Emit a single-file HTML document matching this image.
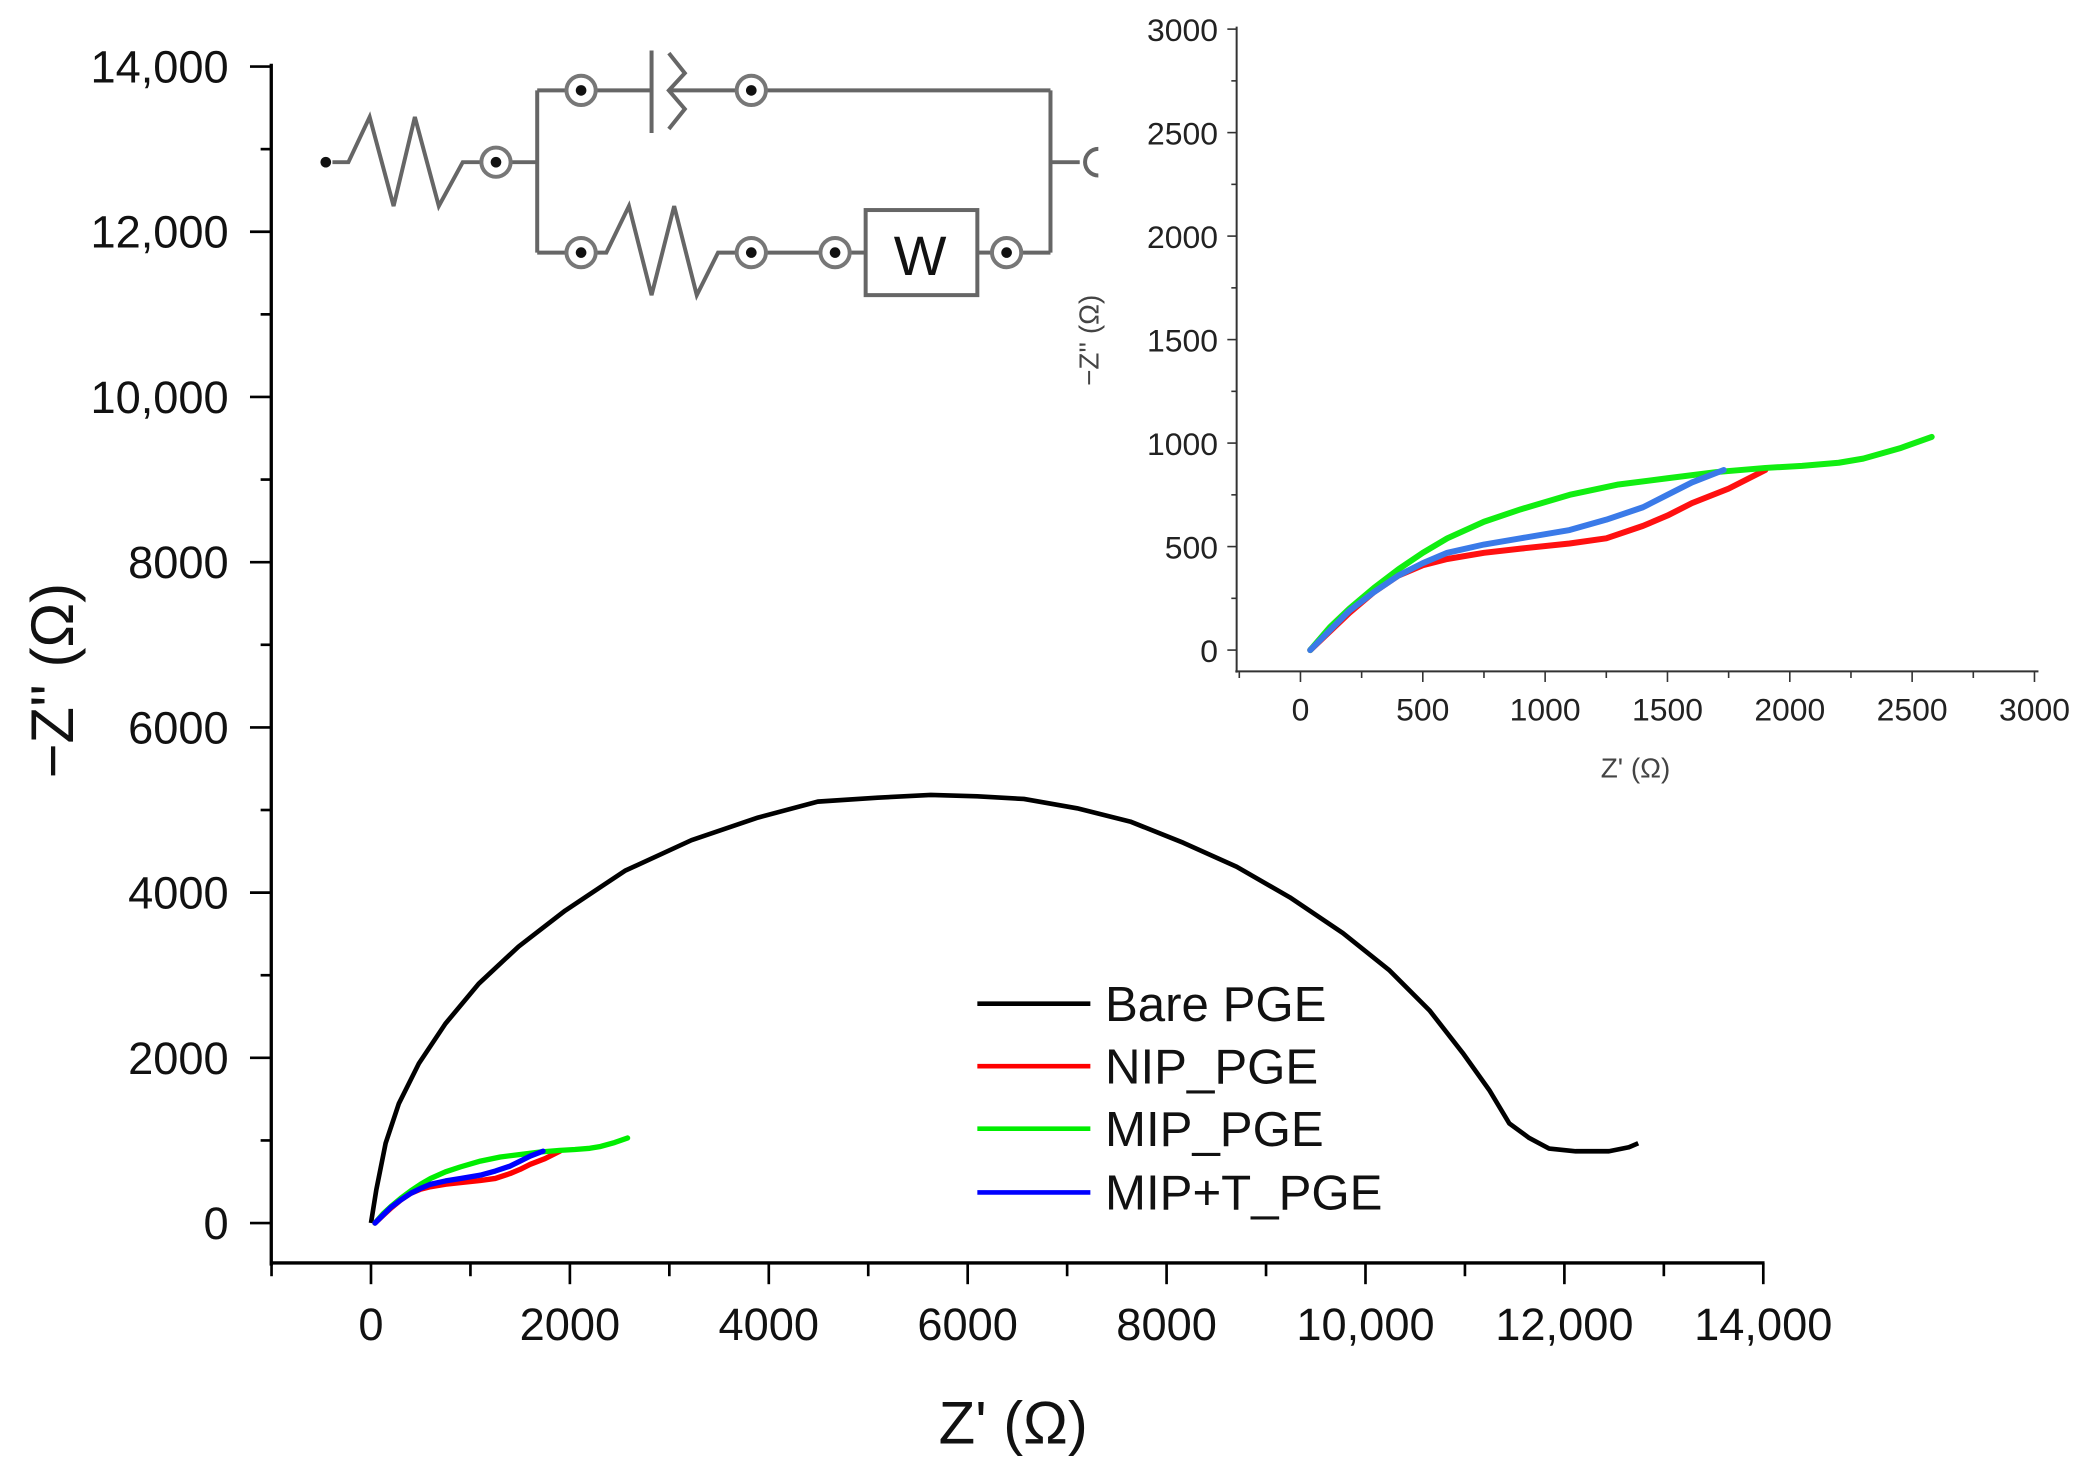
<!DOCTYPE html>
<html><head><meta charset="utf-8"><style>
html,body{margin:0;padding:0;background:#fff}
svg{display:block}
text{font-family:"Liberation Sans",sans-serif}
</style></head><body>
<svg id="s" width="2085" height="1465" viewBox="0 0 1568 1102" preserveAspectRatio="none" xmlns="http://www.w3.org/2000/svg">
<rect width="1568" height="1102" fill="#fff"/>
<g id="main"></g>
<!-- circuit -->
<g stroke="#666" stroke-width="3" fill="none">
<circle cx="245" cy="122" r="4" fill="#111" stroke="none"/>
<polyline points="250,122 262,122 278,88 296,155 312,88 330,155 348,122 362,122"/>
<line x1="385" y1="122" x2="404" y2="122"/>
<line x1="404" y1="68" x2="404" y2="190"/>
<line x1="404" y1="68" x2="425" y2="68"/><line x1="449" y1="68" x2="490" y2="68"/>
<line x1="490" y1="38" x2="490" y2="100"/>
<polyline points="503,40 515,55 503,68 515,82 503,97"/>
<line x1="503" y1="68" x2="553" y2="68"/><line x1="577" y1="68" x2="790" y2="68"/>
<line x1="790" y1="68" x2="790" y2="190"/>
<line x1="790" y1="122" x2="812" y2="122"/>
<path d="M826,112 A10,10 0 0 0 826,132"/>
<line x1="404" y1="190" x2="425" y2="190"/>
<polyline points="449,190 456,190 473,155 490,222 507,155 524,222 540,190 553,190"/>
<line x1="577" y1="190" x2="616" y2="190"/>
<rect x="651" y="158" width="84" height="64"/>
<line x1="640" y1="190" x2="651" y2="190"/><line x1="735" y1="190" x2="745" y2="190"/>
<line x1="769" y1="190" x2="790" y2="190"/>
</g>
<g id="nodes"></g>
<text x="692" y="207" font-size="42" fill="#111" text-anchor="middle">W</text>
<g id="inset"></g>
</svg>
<script>
const NS="http://www.w3.org/2000/svg";
function el(p,t,a,txt){const e=document.createElementNS(NS,t);for(const k in a)e.setAttribute(k,a[k]);if(txt!=null)e.textContent=txt;p.appendChild(e);return e;}
const nd=document.getElementById('nodes');
[[373,122],[437,68],[565,68],[437,190],[565,190],[628,190],[757,190]].forEach(([x,y])=>{
 el(nd,'circle',{cx:x,cy:y,r:11,fill:'#fff',stroke:'#777','stroke-width':3});
 el(nd,'circle',{cx:x,cy:y,r:4,fill:'#111'});
});
const m=document.getElementById('main');
const X=z=>279+z*0.07479, Y=z=>920-z*0.06214;
el(m,'line',{x1:204,y1:48,x2:204,y2:952,stroke:'#000','stroke-width':2.5});
el(m,'line',{x1:203,y1:950,x2:1327,y2:950,stroke:'#000','stroke-width':2.5});
for(let v=0;v<=14000;v+=1000){const maj=v%2000==0;const y=Y(v);
 el(m,'line',{x1:maj?188:196,y1:y,x2:204,y2:y,stroke:'#000','stroke-width':2});
 if(maj)el(m,'text',{x:172,y:y+12,'font-size':34,'text-anchor':'end',fill:'#111'},v>=10000?v.toLocaleString('en-US'):String(v));}
for(let v=-1000;v<=14000;v+=1000){const maj=v%2000==0;const x=X(v);
 el(m,'line',{x1:x,y1:950,x2:x,y2:maj?966:960,stroke:'#000','stroke-width':2});
 if(maj)el(m,'text',{x:x,y:1008,'font-size':34,'text-anchor':'middle',fill:'#111'},v>=10000?v.toLocaleString('en-US'):String(v));}
el(m,'text',{x:762,y:1086,'font-size':45,'text-anchor':'middle',fill:'#111'},"Z' (Ω)");
el(m,'text',{x:0,y:0,'font-size':45,'text-anchor':'middle',fill:'#111',transform:'translate(55,512) rotate(-90)'},"−Z'' (Ω)");
const bare=[[279,920],[283,895],[290,860],[300,830],[315,800],[335,770],[360,740],[390,712],[425,685],[470,655],[520,632],[570,615],[615,603],[660,600],[700,598],[735,599],[770,601],[810,608],[850,618],[890,634],[930,652],[970,675],[1010,702],[1045,730],[1075,760],[1100,792],[1120,820],[1135,845],[1150,856],[1165,864],[1185,866],[1210,866],[1225,863],[1232,860]];
el(m,'polyline',{points:bare.map(p=>p.join(',')).join(' '),fill:'none',stroke:'#000','stroke-width':3.5,'stroke-linejoin':'round'});
const G=[[40,0],[120,110],[200,200],[300,300],[400,390],[500,470],[600,540],[750,620],[900,680],[1100,750],[1300,800],[1500,830],[1700,860],[1900,880],[2050,890],[2200,905],[2300,925],[2450,975],[2580,1030]];
const R=[[40,0],[120,90],[200,180],[300,280],[400,360],[500,410],[600,440],[750,470],[900,490],[1100,515],[1250,540],[1400,600],[1500,650],[1600,710],[1750,780],[1900,870]];
const B=[[40,0],[120,95],[200,190],[300,280],[400,360],[500,420],[600,470],[750,510],[900,540],[1100,580],[1250,630],[1400,690],[1500,750],[1600,810],[1730,870]];
function series(g,d,fx,fy,c,w){el(g,'polyline',{points:d.map(([a,b])=>fx(a)+','+fy(b)).join(' '),fill:'none',stroke:c,'stroke-width':w,'stroke-linejoin':'round','stroke-linecap':'round'});}
series(m,R,X,Y,'#ff0000',4);series(m,G,X,Y,'#00ee00',4);series(m,B,X,Y,'#0000ff',4);
[['Bare PGE','#000',755],['NIP_PGE','#ff0000',802],['MIP_PGE','#00ee00',849],['MIP+T_PGE','#0000ff',897]].forEach(([t,c,y])=>{
 el(m,'line',{x1:735,y1:y,x2:820,y2:y,stroke:c,'stroke-width':3.5});
 el(m,'text',{x:831,y:y+13,'font-size':37,fill:'#111'},t);});
const ins=document.getElementById('inset');
const x2=z=>978+z*0.184, y2=z=>489-z*0.1557;
el(ins,'line',{x1:930,y1:20,x2:930,y2:506,stroke:'#333','stroke-width':1.5});
el(ins,'line',{x1:929,y1:505,x2:1533,y2:505,stroke:'#333','stroke-width':1.5});
for(let v=0;v<=3000;v+=250){const maj=v%500==0;const y=y2(v);
 el(ins,'line',{x1:maj?923:926,y1:y,x2:930,y2:y,stroke:'#333','stroke-width':1.2});
 if(maj)el(ins,'text',{x:916,y:y+9,'font-size':24,'text-anchor':'end',fill:'#222'},String(v));}
for(let v=-250;v<=3000;v+=250){const maj=v%500==0;const x=x2(v);
 el(ins,'line',{x1:x,y1:505,x2:x,y2:maj?513:510,stroke:'#333','stroke-width':1.2});
 if(maj)el(ins,'text',{x:x,y:542,'font-size':24,'text-anchor':'middle',fill:'#222'},String(v));}
el(ins,'text',{x:1230,y:585,'font-size':21,'text-anchor':'middle',fill:'#444'},"Z' (Ω)");
el(ins,'text',{x:0,y:0,'font-size':21,'text-anchor':'middle',fill:'#444',transform:'translate(826,256) rotate(-90)'},"−Z'' (Ω)");
series(ins,R,x2,y2,'#ff1010',4.5);series(ins,G,x2,y2,'#11ee11',4.5);series(ins,B,x2,y2,'#3a7ae8',4.5);
</script>
</body></html>
